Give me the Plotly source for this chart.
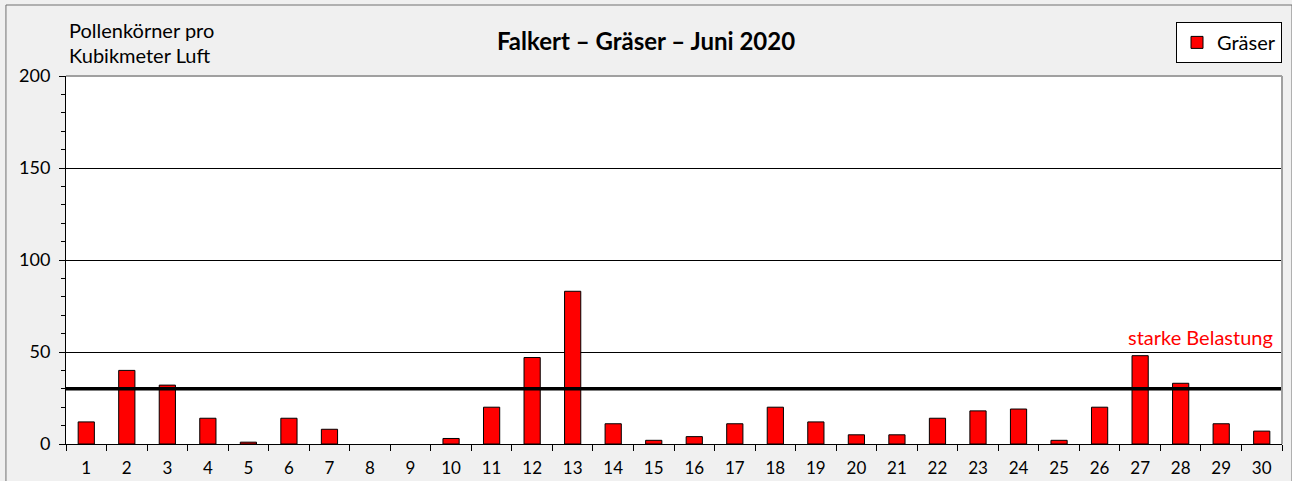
import plotly.graph_objects as go

days = [str(d) for d in range(1, 31)]
graeser = [12, 40, 32, 14, 1, 14, 8, 0, 0, 3, 20, 47, 83, 11, 2, 4, 11, 20, 12, 5,
           5, 14, 18, 19, 2, 20, 48, 33, 11, 7]
threshold = 30
y_ticks = [0, 50, 100, 150, 200]

FONT = "Lato"

fig = go.Figure()
fig.add_trace(go.Bar(
    x=days, y=graeser, name="Gräser",
    marker=dict(color="#ff0000",
                line=dict(color="#000000", width=[1 if v > 0 else 0 for v in graeser])),
    width=0.4,
))

fig.update_layout(
    width=1292, height=481,
    margin=dict(l=66, r=10, t=76, b=37),
    paper_bgcolor="#f0f0f0",
    plot_bgcolor="#ffffff",
    font=dict(family=FONT, size=18, color="#000000"),
    title=dict(text="<b>Falkert – Gräser – Juni 2020</b>", x=0.5, xref="container",
               y=1 - 42 / 481, yref="container", yanchor="middle", xanchor="center",
               font=dict(family=FONT, size=24, color="#000000")),
    showlegend=True,
    legend=dict(x=1.0, xanchor="right", y=1.147, yanchor="top",
                bgcolor="#ffffff", bordercolor="#000000", borderwidth=1,
                font=dict(family=FONT, size=20), itemwidth=30),
    xaxis=dict(type="category", tickson="boundaries", ticks="outside", ticklen=6,
               tickcolor="#000000", showline=True, linecolor="#000000", linewidth=1,
               showgrid=False, tickfont=dict(size=17), ticklabelstandoff=9,
               automargin=False),
    yaxis=dict(range=[0, 200], tickvals=y_ticks, ticks="outside", ticklen=6,
               tickcolor="#000000", showline=True, linecolor="#000000", linewidth=1,
               showgrid=True, gridcolor="#000000", gridwidth=1, zeroline=False,
               tickfont=dict(size=18), ticklabelstandoff=5, automargin=False,
               minor=dict(dtick=10, ticks="outside", ticklen=4, tickcolor="#000000",
                          showgrid=False)),
)

# threshold line
fig.add_shape(type="line", xref="paper", yref="y", x0=0, x1=1, y0=threshold, y1=threshold,
              line=dict(color="#000000", width=3.5))
# plot area top and right borders
fig.add_shape(type="line", xref="paper", yref="paper", x0=0, x1=1, y0=1, y1=1,
              line=dict(color="#a0a0a0", width=2))
fig.add_shape(type="line", xref="paper", yref="paper", x0=1, x1=1, y0=0, y1=1,
              line=dict(color="#a0a0a0", width=2))
# outer chart border
fig.add_shape(type="rect", xref="paper", yref="paper",
              x0=(6 - 66) / 1215, x1=(1291 - 66) / 1215, y0=-0.2, y1=(444 - 5) / 368,
              line=dict(color="#707070", width=1), layer="below")

fig.add_annotation(text="Pollenkörner pro", xref="paper", yref="paper",
                   x=(67 - 66) / 1215, y=(444 - 30) / 368, xanchor="left", yanchor="middle",
                   showarrow=False, font=dict(family=FONT, size=20))
fig.add_annotation(text="Kubikmeter Luft", xref="paper", yref="paper",
                   x=(67 - 66) / 1215, y=(444 - 55) / 368, xanchor="left", yanchor="middle",
                   showarrow=False, font=dict(family=FONT, size=20))
fig.add_annotation(text="starke Belastung", xref="paper", yref="paper",
                   x=(1274 - 66) / 1215, y=(444 - 337) / 368, xanchor="right", yanchor="middle",
                   showarrow=False, font=dict(family=FONT, size=20, color="#ff0000"))

fig.write_html("out.html", config={"displayModeBar": False},
               post_script="document.body.style.margin='0px';")
